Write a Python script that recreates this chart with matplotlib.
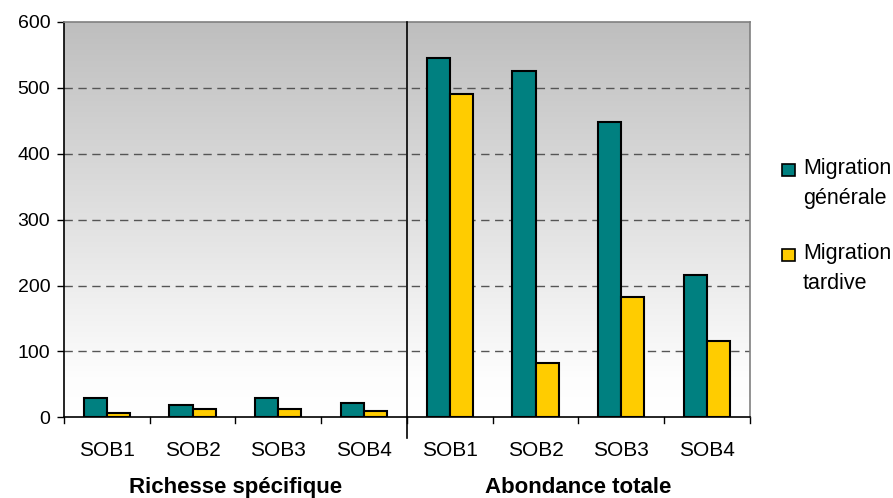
import numpy as np
import matplotlib
matplotlib.use("Agg")
import matplotlib.pyplot as plt
from matplotlib.patches import Rectangle

plt.rcParams['font.family'] = ['Liberation Sans', 'DejaVu Sans']

# données
categories = ["SOB1", "SOB2", "SOB3", "SOB4", "SOB1", "SOB2", "SOB3", "SOB4"]
groups = ["Richesse spécifique", "Abondance totale"]
migration_generale = [29, 19, 29, 22, 545, 526, 448, 216]
migration_tardive = [6, 13, 13, 9, 490, 83, 183, 116]
series_labels = ["Migration\ngénérale", "Migration\ntardive"]
yticks = [0, 100, 200, 300, 400, 500, 600]

TEAL = "#008080"
GOLD = "#FFCC00"
W, H = 893, 498

fig = plt.figure(figsize=(W / 100, H / 100), dpi=100)
ax = fig.add_axes([0.0717, 0.162, 0.768, 0.794])

n = len(categories)
x = np.arange(n)
w = 0.27

# fond en dégradé (gris en haut, blanc en bas)
grad = np.linspace(0, 1, 256).reshape(-1, 1)
cmap = matplotlib.colors.LinearSegmentedColormap.from_list(
    "bg", [(0.0, "#ffffff"), (0.1, "#fdfdfd"), (1.0, "#bebebe")])
ax.imshow(grad, aspect="auto", cmap=cmap, origin="lower",
          extent=[-0.5, n - 0.5, 0, 600], zorder=0)

for y in yticks[1:-1]:
    ax.axhline(y, color="#555555", linestyle=(0, (6, 4)), linewidth=1.0, zorder=1)

ax.bar(x - w / 2, migration_generale, w, color=TEAL, edgecolor="black",
       linewidth=1.5, zorder=3)
ax.bar(x + w / 2, migration_tardive, w, color=GOLD, edgecolor="black",
       linewidth=1.5, zorder=3)

ax.set_xlim(-0.5, n - 0.5)
ax.set_ylim(0, 600)
ax.set_yticks(yticks)
ax.tick_params(axis="y", labelsize=14, length=5, width=1, direction="out", pad=5)
ax.set_xticks([])

for side in ["top", "right"]:
    ax.spines[side].set_color("#808080")
    ax.spines[side].set_linewidth(1.2)
ax.spines["left"].set_linewidth(1.2)
ax.spines["bottom"].set_linewidth(1.2)

# séparateur entre les deux groupes
ax.plot([3.5, 3.5], [0, 600], color="black", linewidth=1.2, zorder=4, clip_on=False)
ax.plot([3.5, 3.5], [0, -31], color="black", linewidth=1.2, zorder=4, clip_on=False)

# petites graduations entre catégories
for b in np.arange(-0.5, n, 1.0):
    ax.plot([b, b], [0, -8], color="black", linewidth=1.0, clip_on=False)

for i, c in enumerate(categories):
    ax.text(i, -50, c, ha="center", va="center", fontsize=15)

ax.text(1.5, -106, groups[0], ha="center", va="center", fontsize=16, fontweight="bold")
ax.text(5.5, -106, groups[1], ha="center", va="center", fontsize=16, fontweight="bold")

# légende dessinée à la main (carré aligné sur la première ligne)
legend_colors = [TEAL, GOLD]
legend_tops = [164, 249]
for col, lab, top in zip(legend_colors, series_labels, legend_tops):
    fig.add_artist(Rectangle((782 / W, 1 - (top + 12) / H), 13 / W, 12 / H,
                             transform=fig.transFigure, facecolor=col,
                             edgecolor="black", linewidth=1.2))
    fig.text(803 / W, 1 - (top - 6) / H, lab, ha="left", va="top",
             fontsize=15.5, linespacing=1.55)

fig.savefig("out.png", dpi=100)
